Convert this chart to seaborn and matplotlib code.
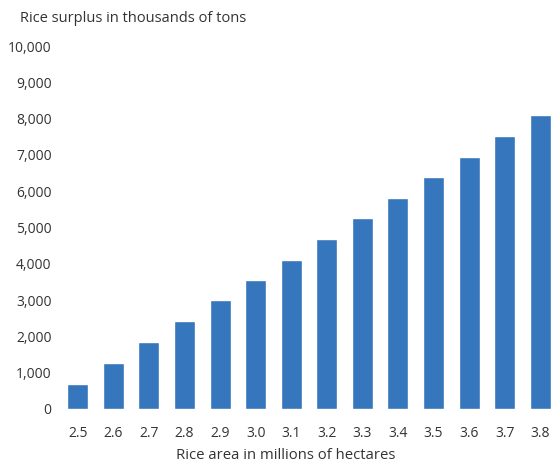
import matplotlib
matplotlib.use("Agg")
import matplotlib.pyplot as plt
import seaborn as sns
import pandas as pd
from matplotlib.ticker import FuncFormatter

# Rice area (millions of hectares) and resulting surplus (thousands of tons)
areas = ["2.5", "2.6", "2.7", "2.8", "2.9", "3.0", "3.1",
         "3.2", "3.3", "3.4", "3.5", "3.6", "3.7", "3.8"]
surplus = [700, 1270, 1850, 2420, 3000, 3550, 4100,
           4680, 5260, 5810, 6390, 6940, 7520, 8100]
y_ticks = [0, 1000, 2000, 3000, 4000, 5000, 6000, 7000, 8000, 9000, 10000]

sns.set_theme(style="white")
plt.rcParams["font.family"] = ["Open Sans", "DejaVu Sans"]

df = pd.DataFrame({"area": areas, "surplus": surplus})

fig = plt.figure(figsize=(5.6, 4.65), dpi=100)
ax = fig.add_axes([60 / 560, 1 - 409 / 465, 498 / 560, (409 - 46) / 465])

sns.barplot(data=df, x="area", y="surplus", color="#3676bc", saturation=1,
            width=0.59, ax=ax)

ax.set_ylim(0, 10000)
ax.set_xlim(-0.5, 13.5)
ax.set_yticks(y_ticks)
ax.yaxis.set_major_formatter(FuncFormatter(lambda v, _: f"{int(v):,}"))
for s in ax.spines.values():
    s.set_visible(False)
ax.tick_params(axis="both", length=0, labelsize=10, colors="#333333")
ax.tick_params(axis="y", pad=6)
ax.tick_params(axis="x", pad=12)
ax.set_ylabel("")
ax.set_xlabel("Rice area in millions of hectares", fontsize=10.7,
              color="#333333", va="center")
ax.xaxis.set_label_coords(0.454, -0.127, transform=ax.transAxes)

fig.text(20 / 560, 1 - 18 / 465, "Rice surplus in thousands of tons",
         fontsize=10.5, color="#333333", ha="left", va="center")

fig.savefig("out.png", dpi=100)
